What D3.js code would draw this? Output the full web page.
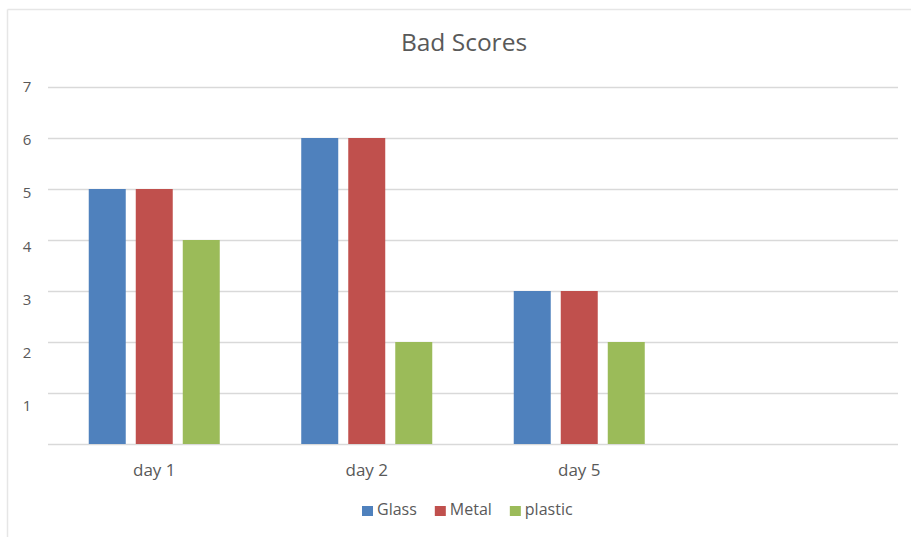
<!DOCTYPE html>
<html>
<head>
<meta charset="utf-8">
<script src="https://cdn.jsdelivr.net/npm/d3@7"></script>
<style>
  html, body { margin: 0; padding: 0; background: #fff; }
  svg { display: block; }
  text { font-family: "Open Sans", Lato, sans-serif; fill: #595959; }
</style>
</head>
<body>
<svg id="chart" width="911" height="537"></svg>
<script>
// Chart data
const categories = ["day 1", "day 2", "day 5", ""];
const seriesNames = ["Glass", "Metal", "plastic"];
const glass = [5, 6, 3];
const metal = [5, 6, 3];
const plastic = [4, 2, 2];
const yTicks = [1, 2, 3, 4, 5, 6, 7];
const colors = ["#4F81BD", "#C0504D", "#9BBB59"];
const title = "Bad Scores";

const seriesValues = [glass, metal, plastic];

const svg = d3.select("#chart");
const W = 911, H = 537;
const plot = { left: 48, right: 898, top: 87, bottom: 444 };

// Chart area frame (top and left edges)
svg.append("line").attr("x1", 7.5).attr("x2", W).attr("y1", 9.5).attr("y2", 9.5)
  .attr("stroke", "#E6E6E6").attr("stroke-width", 1.5);
svg.append("line").attr("x1", 7.5).attr("x2", 7.5).attr("y1", 9.5).attr("y2", H)
  .attr("stroke", "#E6E6E6").attr("stroke-width", 1.5);

const y = d3.scaleLinear().domain([0, 7]).range([plot.bottom, plot.top]);
// value labels sit on a slightly stretched scale beside the gridlines
const yLabel = d3.scaleLinear().domain([1, 7]).range([407, 88]);

const x0 = d3.scaleBand().domain(categories).range([plot.left, plot.right])
  .paddingInner(0.3835).paddingOuter(0.3835 / 2);
const x1 = d3.scaleBand().domain(seriesNames).range([0, x0.bandwidth()])
  .paddingInner(0.213).paddingOuter(0);

// Gridlines
svg.append("g").selectAll("line").data([0].concat(yTicks)).join("line")
  .attr("x1", plot.left).attr("x2", plot.right)
  .attr("y1", d => Math.round(y(d)) + 0.5).attr("y2", d => Math.round(y(d)) + 0.5)
  .attr("stroke", "#D9D9D9").attr("stroke-width", 1.3);

// Y labels
svg.append("g").selectAll("text").data(yTicks).join("text")
  .attr("x", 27).attr("y", d => yLabel(d))
  .attr("text-anchor", "middle").attr("dominant-baseline", "middle")
  .attr("font-size", 15).text(d => d);

// Bars
const groups = svg.append("g").selectAll("g")
  .data(categories.filter(c => c !== ""))
  .join("g")
  .attr("transform", c => `translate(${x0(c)},0)`);

groups.selectAll("rect")
  .data((c, ci) => seriesNames.map((s, si) => ({ s, si, v: seriesValues[si][ci] })))
  .join("rect")
  .attr("x", d => x1(d.s))
  .attr("width", x1.bandwidth())
  .attr("y", d => y(d.v))
  .attr("height", d => y(0) - y(d.v))
  .attr("fill", d => colors[d.si]);

// Category labels
svg.append("g").selectAll("text").data(categories).join("text")
  .attr("x", c => x0(c) + x0.bandwidth() / 2)
  .attr("y", 471)
  .attr("text-anchor", "middle").attr("dominant-baseline", "middle")
  .attr("font-size", 17).text(c => c);

// Title
svg.append("text").attr("x", 464).attr("y", 44)
  .attr("text-anchor", "middle").attr("dominant-baseline", "middle")
  .attr("font-size", 24.5).text(title);

// Legend
const legend = svg.append("g").attr("transform", "translate(362,511)");
let lx = 0;
seriesNames.forEach((name, i) => {
  const g = legend.append("g").attr("transform", `translate(${lx},0)`);
  g.append("rect").attr("x", 0).attr("y", -5).attr("width", 11).attr("height", 10)
    .attr("fill", colors[i]);
  const t = g.append("text").attr("x", 15).attr("y", 0)
    .attr("dominant-baseline", "middle").attr("font-size", 16).text(name);
  lx += 15 + t.node().getComputedTextLength() + 18;
});
</script>
</body>
</html>
